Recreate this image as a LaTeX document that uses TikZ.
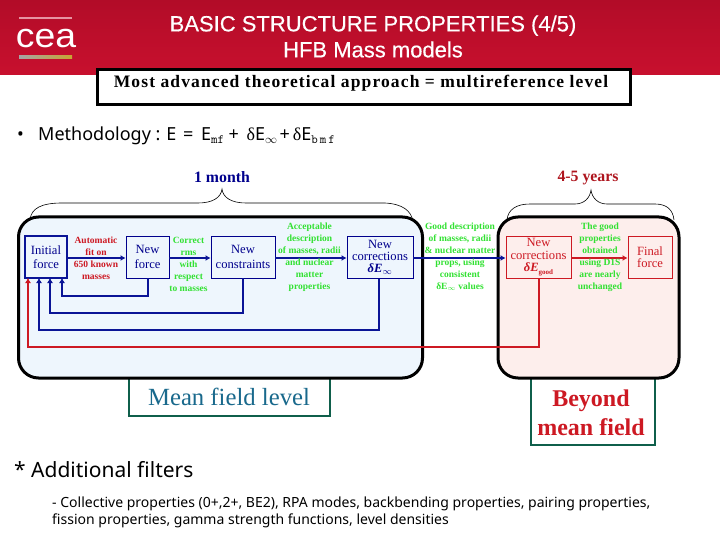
\documentclass[tikz,border=0pt]{standalone}
\usepackage{fontspec}
\setmainfont{Liberation Serif}
\newfontfamily\headfont[FakeBold=0.4]{Liberation Sans}
\newfontfamily\logofont{Liberation Sans}
\newfontfamily\bodyfont{Noto Sans}
\newfontfamily\spacedbold[LetterSpace=6.4]{Liberation Serif Bold}
\definecolor{hdr}{RGB}{200,16,46}
\definecolor{hdrd}{RGB}{178,12,40}
\definecolor{navy}{RGB}{0,0,140}
\definecolor{navyb}{RGB}{10,20,150}
\definecolor{redl}{RGB}{205,25,35}
\definecolor{greenl}{RGB}{50,225,50}
\definecolor{panelb}{RGB}{238,246,253}
\definecolor{panelp}{RGB}{253,238,236}
\definecolor{boxg}{RGB}{15,95,75}
\definecolor{teal}{RGB}{25,105,140}
\definecolor{gold}{RGB}{200,165,50}
\usetikzlibrary{arrows.meta}
\tikzset{
  panel/.style={draw=black,line width=3pt,rounded corners=20pt,inner sep=0pt},
  labelbox/.style={draw=boxg,line width=2.2pt,fill=white,inner sep=0pt},
  bluebox/.style={draw=navy,line width=0.9pt,fill=panelb,text=navy,inner sep=0pt,align=center,minimum height=42pt,font=\fontsize{12.6}{14.5}\selectfont},
  pinkbox/.style={draw=redl,line width=0.9pt,fill=panelp,text=redl,inner sep=0pt,align=center,minimum height=42pt,font=\fontsize{12.6}{12.5}\selectfont},
  capt/.style={inner sep=0pt,align=center,font=\fontsize{9.5}{12}\selectfont\bfseries},
  arrb/.style={draw=navyb,line width=1.6pt,-{Latex[length=5pt,width=6pt]}},
  arrr/.style={draw=redl,line width=1.6pt,-{Latex[length=5pt,width=6pt]}},
  bracepath/.style={draw=black,line width=0.6pt}
}
\begin{document}
\begin{tikzpicture}[x=1pt,y=-1pt]
\useasboundingbox (0,0) rectangle (720,540);
% header
\fill[top color=hdrd,bottom color=hdr] (0,0) rectangle (720,75);
\node[inner sep=0pt,text=white,align=center,font=\headfont\fontsize{22}{26}\selectfont] (title) at (373,36.5) {BASIC STRUCTURE PROPERTIES (4/5)\\HFB Mass models};
% logo
\node[inner sep=0pt,text=white,xscale=1.1,font=\logofont\fontsize{34}{34}\selectfont] (logo) at (46,39) {cea};
\fill[left color=gray!70,right color=gold] (19,56) rectangle (72,59);
\fill[white!55!hdr] (19,17) rectangle (72,19);
% top box
\node[draw=black,line width=3pt,fill=white,minimum width=533pt,minimum height=35pt,inner sep=0pt] (topbox) at (364,87.5) {};
\node[inner sep=0pt,font=\spacedbold\fontsize{17.5}{18}\selectfont] (toptext) at (361,83) {Most advanced theoretical approach = multireference level};
% methodology
\node[anchor=west,inner sep=0pt,font=\bodyfont\fontsize{18}{20}\selectfont] (bullet) at (17,136) {•};
\node[anchor=west,inner sep=0pt,font=\bodyfont\fontsize{18}{20}\selectfont] (meth) at (38,136) {Methodology :\hspace{6pt}E\hspace{2pt} =\hspace{3pt} E$_{\mathtt{mf}}$\hspace{4pt}+\hspace{3pt} {\rmfamily δ}E$_\infty$\hspace{2pt}+\hspace{3pt}{\rmfamily δ}E$_{\mathtt{b\,m\,f}}$};
% time labels
\node[inner sep=0pt,text=navy,font=\fontsize{15.8}{16}\selectfont\bfseries] (month) at (222,177) {1 month};
\node[inner sep=0pt,text=redl!85!black,font=\fontsize{15.8}{16}\selectfont\bfseries] (years) at (588,178) {4-5 years};
% braces
\draw[bracepath] (30,220) .. controls (31,208) and (42,203) .. (62,203) -- (198,203) .. controls (212,203) and (221,198) .. (222,189) .. controls (223,198) and (232,203) .. (246,203) -- (385,203) .. controls (403,204) and (411,211) .. (413,221);
\draw[bracepath] (507,220) .. controls (508,209) and (517,204) .. (530,204) -- (575,204) .. controls (584,204) and (590,198) .. (591,190) .. controls (592,198) and (598,204) .. (607,204) -- (655,204) .. controls (667,204) and (673,210) .. (674,220);
% labels below panels
\node[labelbox,minimum width=201pt,minimum height=40pt] (mfbox) at (229.5,396) {};
\node[labelbox,minimum width=124pt,minimum height=70pt] (bmfbox) at (593,410) {};
% panels
\node[panel,fill=panelb,minimum width=404pt,minimum height=161pt] (bluepanel) at (220.5,297.5) {};
\node[panel,fill=panelp,minimum width=181pt,minimum height=161pt] (pinkpanel) at (588.5,297.5) {};
\node[inner sep=0pt,text=teal,font=\fontsize{24.7}{26}\selectfont] (mftext) at (229,397) {Mean field level};
\node[inner sep=0pt,text=redl,align=center,font=\fontsize{24}{29}\selectfont\bfseries] (bmftext) at (591,412.5) {Beyond\\mean field};
% boxes
\node[bluebox,draw=navyb,line width=1.6pt,minimum width=42pt] (init) at (46,257) {Initial\\force};
\node[bluebox,minimum width=43pt] (nf) at (147.5,257) {New\\force};
\node[bluebox,minimum width=64pt] (nc) at (243,257) {New\\constraints};
\node[bluebox,minimum width=66pt,font=\fontsize{12.6}{11.5}\selectfont] (ncor) at (380,257.5) {New\\corrections\\[1pt]{\bfseries\itshape δE}$_\infty$};
\node[pinkbox,minimum width=65pt] (good) at (538.5,257.5) {New\\corrections\\[0pt]{\bfseries\itshape δE}{\fontsize{7}{7}\selectfont\bfseries\raisebox{-3pt}{good}}};
\node[pinkbox,minimum width=44pt] (final) at (650,257) {Final\\force};
% loop entries
\coordinate (e1) at (62,278);
\coordinate (e2) at (50,278);
\coordinate (e3) at (39,278);
\coordinate (e4) at (28,278);
\coordinate (l1) at (148,296);
\coordinate (l2) at (243,313);
\coordinate (l3) at (379,330);
\coordinate (l4) at (539,347);
% connectors
\draw[arrb] (init.east |- 0,258) -- (nf.west |- 0,258);
\draw[arrb] (nf.east |- 0,258) -- (nc.west |- 0,258);
\draw[arrb] (nc.east |- 0,258) -- (ncor.west |- 0,258);
\draw[arrb] (ncor.east |- 0,258) -- (good.west |- 0,258);
\draw[arrr] (good.east |- 0,258) -- (final.west |- 0,258);
\draw[arrb] (l1 |- nf.south) -- (l1) -| (e1);
\draw[arrb] (l2 |- nc.south) -- (l2) -| (e2);
\draw[arrb] (l3 |- ncor.south) -- (l3) -| (e3);
\draw[arrr] (l4 |- good.south) -- (l4) -| (e4);
% captions
\node[capt,text=redl] (c1) at (96,258) {Automatic\\fit on\\650 known\\masses};
\node[capt,text=greenl] (c2) at (188.5,264) {Correct\\rms\\with\\respect\\to masses};
\node[capt,text=greenl] (c3) at (309.5,257) {Acceptable\\description\\of masses, radii\\and nuclear\\matter\\properties};
\node[capt,text=greenl] (c4) at (460,257) {Good description\\of masses, radii\\\& nuclear matter\\props, using\\consistent\\{δE}$_\infty$ values};
\node[capt,text=greenl] (c5) at (600,257.5) {The good\\properties\\obtained\\using D1S\\are nearly\\unchanged};
% bottom
\node[anchor=west,inner sep=0pt,font=\bodyfont\fontsize{21}{23}\selectfont] (filters) at (14,470) {* Additional filters};
\node[anchor=north west,inner sep=0pt,align=left,font=\bodyfont\fontsize{14}{17}\selectfont] (desc) at (52,496.5) {- Collective properties (0+,2+, BE2), RPA modes, backbending properties, pairing properties,\\fission properties, gamma strength functions, level densities};
\end{tikzpicture}
\end{document}
